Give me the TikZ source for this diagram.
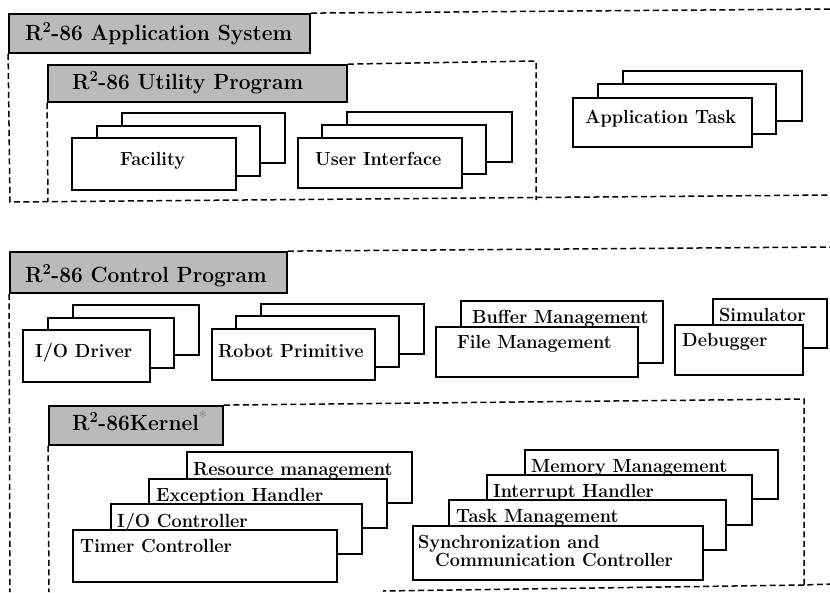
\documentclass[tikz,border=0pt]{standalone}
\usepackage{fontspec}
\usetikzlibrary{fit}
\newcommand\narrowtext[1]{\scalebox{0.95}[1]{#1}}
\tikzset{
  sbox/.style={draw, line width=1.7pt, fill=white, inner sep=0pt},
  tbox/.style={draw, line width=1.8pt, fill=black!27, inner sep=0pt},
  lbl/.style={font=\fontsize{19}{21}\selectfont\bfseries\addfontfeatures{FakeBold=2}, inner sep=0pt, anchor=base west},
  ttl/.style={font=\fontsize{22}{24}\selectfont\bfseries\addfontfeatures{FakeBold=2.5}, inner sep=0pt, anchor=base west},
  dline/.style={line width=1.5pt, dash pattern=on 6pt off 3.5pt},
}
\begin{document}
\begin{tikzpicture}[x=1pt,y=-1pt]
\useasboundingbox[fill=white] (0,0) rectangle (830,592);

% ---------------- Application System ----------------
\node[tbox, fit={(9,14) (310,53)}] (as) {};
\node[ttl] (ast) at (25,40) {\narrowtext{R\textsuperscript{2}-86 Application System}};
\draw[dline] (as.north east) -- (830,9);
\draw[dline] (as.south west) -- (10,202) -- (830,195);

% Utility Program
\node[tbox, fit={(48,65) (347,102)}] (up) {};
\node[ttl] (upt) at (72,89) {\narrowtext{R\textsuperscript{2}-86 Utility Program}};
\draw[dline] (up.north east) -- (536,61) -- (536,200);
\draw[dline] (up.south west) -- (48,201);

% Facility
\node[sbox, fit={(122,113) (285,163)}] (fa3) {};
\node[sbox, fit={(97,126) (260,176)}] (fa2) {};
\node[sbox, fit={(72,138) (236,190)}] (fa1) {};
\node[lbl] (fat) at (120,165) {\narrowtext{Facility}};

% User Interface
\node[sbox, fit={(347,112) (512,162)}] (ui3) {};
\node[sbox, fit={(322,125) (486,174)}] (ui2) {};
\node[sbox, fit={(298,138) (462,188)}] (ui1) {};
\node[lbl] (uit) at (315,165) {\narrowtext{User Interface}};

% Application Task
\node[sbox, fit={(623,71) (802,121)}] (at3) {};
\node[sbox, fit={(598,84) (776,134)}] (at2) {};
\node[sbox, fit={(573,98) (752,147)}] (at1) {};
\node[lbl] (att) at (585,123) {\narrowtext{Application Task}};

% ---------------- Control Program ----------------
\node[tbox, fit={(10,252) (287,293)}] (cp) {};
\node[ttl] (cpt) at (25,282) {\narrowtext{R\textsuperscript{2}-86 Control Program}};
\draw[dline] (cp.north east) -- (830,247);
\draw[dline] (cp.south west) -- (10,592);

% I/O Driver
\node[sbox, fit={(73,305) (199,355)}] (io3) {};
\node[sbox, fit={(48,318) (174,368)}] (io2) {};
\node[sbox, fit={(23,330) (150,382)}] (io1) {};
\node[lbl] (iot) at (35,357) {\narrowtext{I/O Driver}};

% Robot Primitive
\node[sbox, fit={(261,304) (424,354)}] (rp3) {};
\node[sbox, fit={(236,316) (399,367)}] (rp2) {};
\node[sbox, fit={(212,329) (375,380)}] (rp1) {};
\node[lbl] (rpt) at (218,357) {\narrowtext{Robot Primitive}};

% Buffer / File Management
\node[sbox, fit={(461,301) (663,363)}] (bm) {};
\node[lbl] (bmt) at (472,323) {\narrowtext{Buffer Management}};
\node[sbox, fit={(436,327) (638,377)}] (fm) {};
\node[lbl] (fmt) at (457,348) {\narrowtext{File Management}};

% Simulator / Debugger
\node[sbox, fit={(713,299) (827,348)}] (si) {};
\node[lbl] (sit) at (719,321) {\narrowtext{Simulator}};
\node[sbox, fit={(675,325) (803,375)}] (db) {};
\node[lbl] (dbt) at (682,346) {\narrowtext{Debugger}};

% ---------------- Kernel ----------------
\node[tbox, fit={(49,406) (223,445)}] (kn) {};
\node[ttl] (knt) at (72,430) {\narrowtext{R\textsuperscript{2}-86Kernel\textcolor{black!45}{\textsuperscript{*}}}};
\draw[dline] (kn.north east) -- (804,399) -- (804,585) -- (830,584);
\draw[dline] (804,585) -- (383,591);
\draw[dline] (kn.south west) -- (49,592);

% left stack
\node[sbox, fit={(187,452) (412,503)}] (rm) {};
\node[lbl] (rmt) at (193,475) {\narrowtext{Resource management}};
\node[sbox, fit={(149,479) (387,528)}] (eh) {};
\node[lbl] (eht) at (156,501) {\narrowtext{Exception Handler}};
\node[sbox, fit={(111,504) (362,554)}] (ic) {};
\node[lbl] (ict) at (117,527) {\narrowtext{I/O Controller}};
\node[sbox, fit={(73,530) (337,582)}] (tc) {};
\node[lbl] (tct) at (80,552) {\narrowtext{Timer Controller}};

% right stack
\node[sbox, fit={(525,450) (778,499)}] (mm) {};
\node[lbl] (mmt) at (531,472) {\narrowtext{Memory Management}};
\node[sbox, fit={(487,475) (752,525)}] (ih) {};
\node[lbl] (iht) at (493,497) {\narrowtext{Interrupt Handler}};
\node[sbox, fit={(449,500) (726,550)}] (tm) {};
\node[lbl] (tmt) at (456,522) {\narrowtext{Task Management}};
\node[sbox, fit={(413,526) (703,580)}] (sc) {};
\node[lbl] (sct1) at (418,548) {\narrowtext{Synchronization and}};
\node[lbl] (sct2) at (435,566) {\narrowtext{Communication Controller}};

\end{tikzpicture}
\end{document}
